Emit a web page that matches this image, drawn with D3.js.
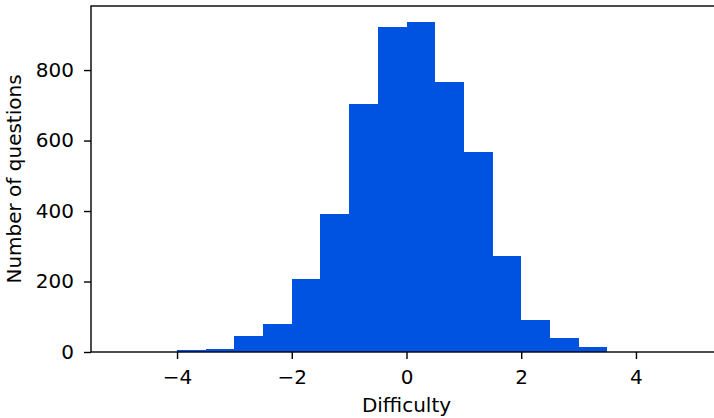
<!DOCTYPE html>
<html>
<head>
<meta charset="utf-8">
<script src="https://cdn.jsdelivr.net/npm/d3@7"></script>
<style>
body { margin: 0; background: #fff; }
svg text { font-family: "DejaVu Sans", sans-serif; fill: #000; }
</style>
</head>
<body>
<svg id="chart" width="714" height="418"></svg>
<script>
// histogram bins (width 0.5) and counts
var binStarts = [-4, -3.5, -3, -2.5, -2, -1.5, -1, -0.5, 0, 0.5, 1, 1.5, 2, 2.5, 3];
var binWidth = 0.5;
var counts = [6, 9, 46, 80, 207, 391, 705, 923, 935, 767, 568, 273, 90, 39, 13];
var xTicks = [-4, -2, 0, 2, 4];
var yTicks = [0, 200, 400, 600, 800];
var xLabel = 'Difficulty';
var yLabel = 'Number of questions';

var padL = 91, padT = 6, padB = 352, padR = 722;
var fs = 20;
var svg = d3.select('#chart');

var x = d3.scaleLinear().domain([-5.5, 5.5]).range([padL, padR]);
var y = d3.scaleLinear().domain([0, d3.max(counts) * 1.05]).range([padB, padT]);

var bins = binStarts.map(function (s, i) { return { x0: s, x1: s + binWidth, n: counts[i] }; });

svg.append('g').selectAll('rect').data(bins).enter().append('rect')
	.attr('x', d => x(d.x0))
	.attr('width', d => x(d.x1) - x(d.x0))
	.attr('y', d => y(d.n))
	.attr('height', d => y(0) - y(d.n))
	.attr('fill', '#0052e0')
	.attr('shape-rendering', 'crispEdges');

// frame
svg.append('rect')
	.attr('x', padL).attr('y', padT)
	.attr('width', padR - padL).attr('height', padB - padT)
	.attr('fill', 'none').attr('stroke', '#000').attr('stroke-width', 1.4);

var fmt = d => (d < 0 ? '\u2212' + Math.abs(d) : '' + d);

var xAxis = d3.axisBottom(x).tickValues(xTicks).tickFormat(fmt).tickSize(7).tickPadding(6);
var gx = svg.append('g').attr('transform', 'translate(0,' + padB + ')').call(xAxis);
var yAxis = d3.axisLeft(y).tickValues(yTicks).tickFormat(fmt).tickSize(7).tickPadding(10);
var gy = svg.append('g').attr('transform', 'translate(' + padL + ',0)').call(yAxis);

[gx, gy].forEach(function (g) {
	g.select('.domain').remove();
	g.selectAll('.tick line').attr('stroke', '#000').attr('stroke-width', 1.4);
	g.selectAll('.tick text').attr('font-size', fs).attr('font-family', '"DejaVu Sans", sans-serif').attr('fill', '#000');
});
gx.selectAll('.tick text').attr('y', 32).attr('dy', null);

svg.append('text')
	.attr('x', x(0)).attr('y', 412)
	.attr('text-anchor', 'middle')
	.attr('font-size', fs)
	.text(xLabel);

svg.append('text')
	.attr('transform', 'translate(21,' + (padT + padB) / 2 + ') rotate(-90)')
	.attr('text-anchor', 'middle')
	.attr('font-size', fs)
	.text(yLabel);
</script>
</body>
</html>
